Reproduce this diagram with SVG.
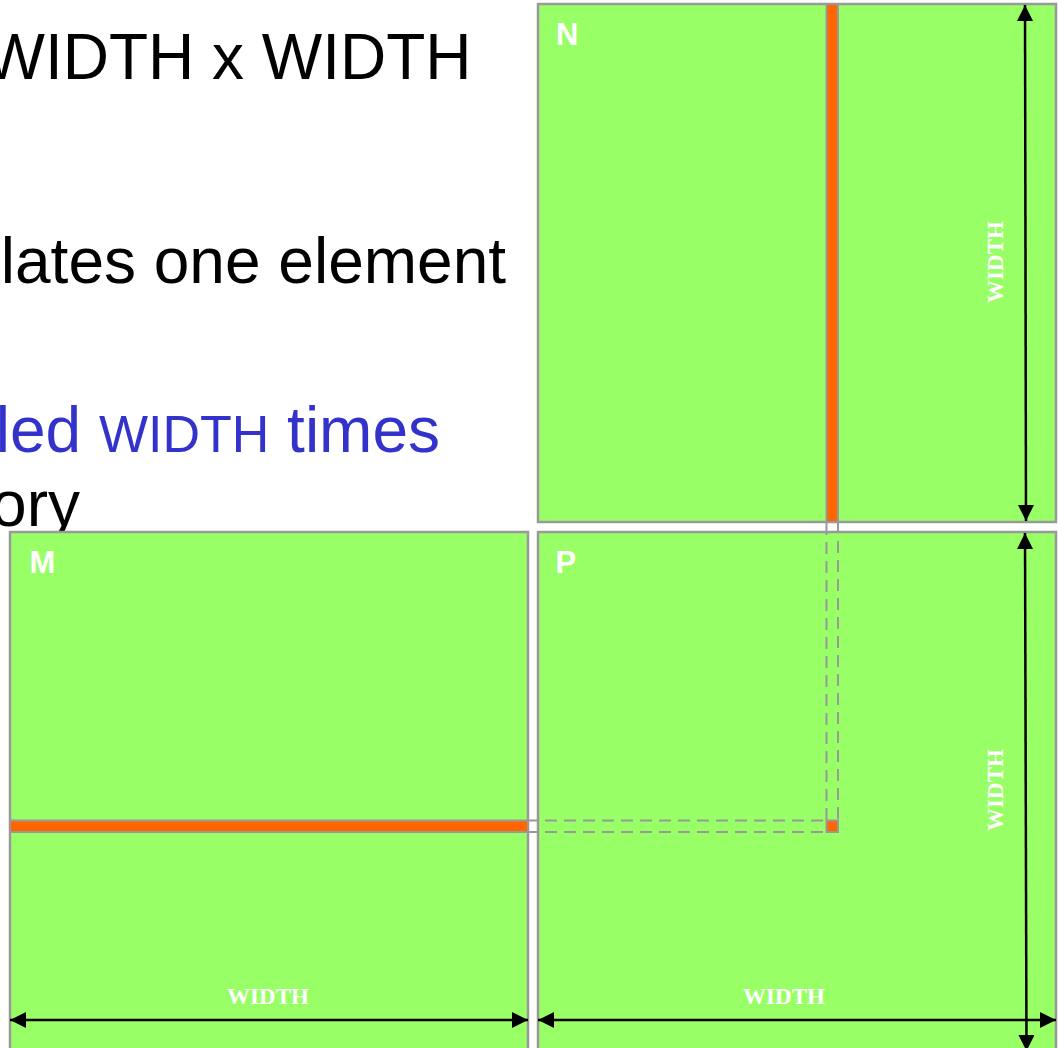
<svg xmlns="http://www.w3.org/2000/svg" width="1058" height="1048" viewBox="0 0 1058 1048">
<style>
.txt{font-family:"Liberation Sans",Arial,sans-serif;font-size:64px;fill:#000}
.blue{fill:#3333CC}
.mat{fill:#99FF66;stroke:#999999;stroke-width:2.5}
.strip{fill:#FF6600;stroke:#999999;stroke-width:2}
.dash{stroke:#999999;stroke-width:2;fill:none;stroke-dasharray:12 7}
.solid{stroke:#999999;stroke-width:2;fill:none}
.lbl{font-family:"Liberation Sans",Arial,sans-serif;font-weight:bold;font-size:31px;fill:#fff}
.dim{font-family:"Liberation Serif","Times New Roman",serif;font-weight:bold;font-size:23px;fill:#fff;text-anchor:middle}
.arr{stroke:#000;stroke-width:2.5;fill:none;marker-start:url(#ah);marker-end:url(#ah)}
</style>
<defs>
<marker id="ah" markerUnits="userSpaceOnUse" markerWidth="18" markerHeight="16" refX="16" refY="8" orient="auto-start-reverse">
<path d="M0,0 L16,8 L0,16 Z" fill="#000"/>
</marker>
</defs>
<rect width="1058" height="1048" fill="#fff"/>
<g id="text">
<text class="txt" x="471.5" y="79" text-anchor="end">WIDTH x WIDTH</text>
<text class="txt" x="506" y="283" text-anchor="end">lates one element</text>
<text class="txt blue" x="440" y="452" text-anchor="end">led <tspan font-size="52">WIDTH</tspan> times</text>
<text class="txt" x="80" y="526" text-anchor="end">ory</text>
</g>
<g id="N">
<rect class="mat" x="538" y="4" width="518" height="518"/>
<rect class="strip" x="826.5" y="4" width="11.5" height="518"/>
<text class="lbl" x="556" y="45">N</text>
</g>
<g id="M">
<rect class="mat" x="10" y="532" width="518" height="520"/>
<rect class="strip" x="10" y="820.5" width="518" height="11.5"/>
<text class="lbl" x="29.5" y="573">M</text>
</g>
<g id="P">
<rect class="mat" x="538" y="532" width="518" height="520"/>
<rect class="strip" x="826.5" y="820.5" width="11.5" height="11.5"/>
<text class="lbl" x="555.6" y="573">P</text>
</g>
<g id="connectors">
<line class="solid" x1="838" y1="522" x2="838" y2="533"/>
<line class="dash" x1="826.5" y1="523" x2="826.5" y2="820"/>
<line class="dash" x1="838" y1="541" x2="838" y2="820"/>
<line class="solid" x1="528" y1="820.5" x2="538" y2="820.5"/>
<line class="solid" x1="528" y1="832" x2="538" y2="832"/>
<line class="dash" x1="545" y1="820.5" x2="826" y2="820.5"/>
<line class="dash" x1="545" y1="832" x2="826" y2="832"/>
<line class="arr" x1="1025" y1="5" x2="1026" y2="521"/>
<line class="arr" x1="1025" y1="533" x2="1026.5" y2="1051"/>
<line class="arr" x1="10" y1="1020" x2="528" y2="1020"/>
<line class="arr" x1="538" y1="1020" x2="1056" y2="1020"/>
<text class="dim" x="268" y="1004">WIDTH</text>
<text class="dim" x="784" y="1004">WIDTH</text>
<text class="dim" transform="translate(1003,262) rotate(-90)">WIDTH</text>
<text class="dim" transform="translate(1003,790) rotate(-90)">WIDTH</text>
</g>
</svg>
